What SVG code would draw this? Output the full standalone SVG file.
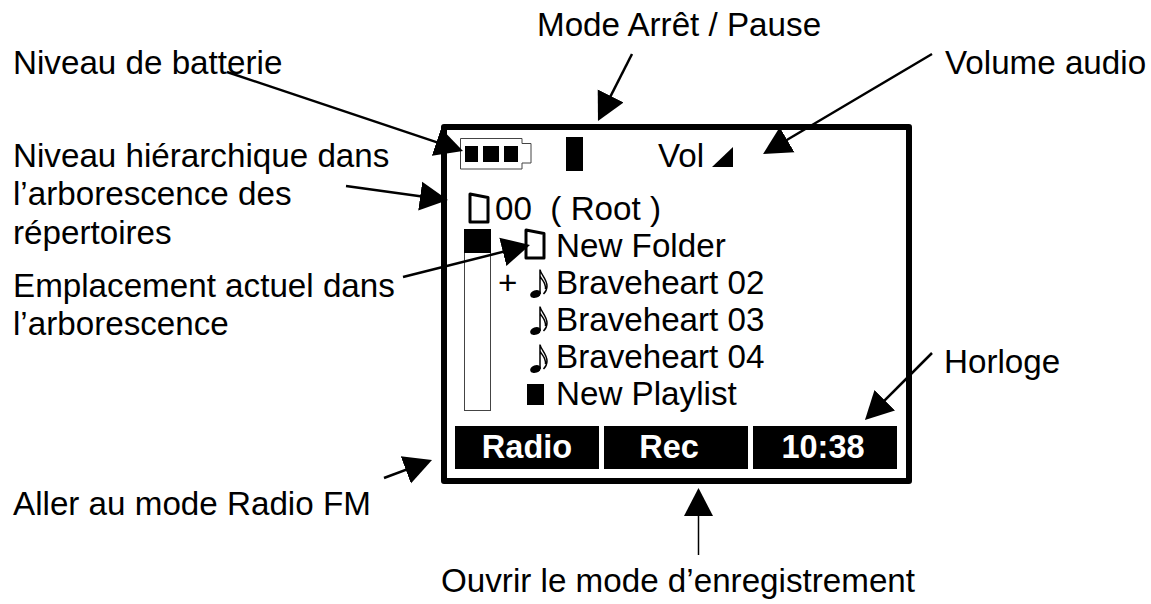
<svg xmlns="http://www.w3.org/2000/svg" width="1151" height="604" viewBox="0 0 1151 604">
<style>
text{font-family:"Liberation Sans",Arial,sans-serif;font-size:33.200px;fill:#000}
.b{font-weight:bold;fill:#fff;text-anchor:middle;font-size:32.500px}
.k{fill:#000;stroke:none}
.fold{fill:#fff;stroke:#000;stroke-width:3;stroke-linejoin:round}
.c line{stroke:#000;stroke-width:2.500;marker-end:url(#h)}
.c line.thin{stroke-width:1.500}
</style>
<defs>
<marker id="h" markerUnits="userSpaceOnUse" markerWidth="30" markerHeight="31" refX="22" refY="15.500" orient="auto"><path d="M0,1L28,15.500L0,30z" fill="#000"/></marker>
<symbol id="note" viewBox="0 0 18 29" overflow="visible">
<ellipse cx="5.500" cy="25" rx="5.500" ry="3.800" transform="rotate(-20 5.500 25)" fill="#000"/>
<path d="M10,25V0.500C10.500,5 17,10 17,17C17,20 15.500,23 13.500,25M10,7C11.500,11 16,13 15.500,20" fill="none" stroke="#000" stroke-width="1.500"/>
</symbol>
<path id="folder" class="fold" d="M0,0L18,3.500V28H0z"/>
</defs>
<rect width="1151" height="604" fill="#fff"/>
<g id="screen">
<rect x="444" y="127" width="465" height="354" fill="none" stroke="#000" stroke-width="6" stroke-linejoin="round"/>
</g>
<g id="battery">
<path d="M460.500,138.500H522V143.500H531V163H522V169H460.500z" fill="#fff" stroke="#444" stroke-width="1"/>
<rect class="k" x="465" y="146" width="13" height="16"/>
<rect class="k" x="483" y="146" width="16" height="16"/>
<rect class="k" x="504" y="146" width="14" height="16"/>
</g>
<g id="pause"><rect class="k" x="566" y="137" width="17" height="34"/></g>
<g id="volume">
<text x="658" y="167">Vol</text>
<path class="k" d="M712,167L733,147V167z"/>
</g>
<g id="root">
<use href="#folder" x="470" y="194"/>
<text x="495" y="220" xml:space="preserve">00  ( Root )</text>
</g>
<g id="scrollbar">
<rect x="464.500" y="229.500" width="26" height="181" fill="#fff" stroke="#444" stroke-width="1"/>
<rect class="k" x="464" y="229" width="27" height="24"/>
</g>
<g id="new-folder">
<use href="#folder" x="526" y="230"/>
<text x="556" y="257">New Folder</text>
</g>
<g id="track-02">
<text x="498" y="294">+</text>
<use href="#note" x="530" y="269" width="18" height="29"/>
<text x="556" y="294">Braveheart 02</text>
</g>
<g id="track-03">
<use href="#note" x="530" y="306" width="18" height="29"/>
<text x="556" y="331">Braveheart 03</text>
</g>
<g id="track-04">
<use href="#note" x="530" y="344" width="18" height="29"/>
<text x="556" y="368">Braveheart 04</text>
</g>
<g id="playlist">
<rect class="k" x="527" y="384" width="17" height="21"/>
<text x="556" y="405">New Playlist</text>
</g>
<g id="btn-radio"><rect class="k" x="455" y="426" width="144" height="43"/><text class="b" x="527" y="458">Radio</text></g>
<g id="btn-rec"><rect class="k" x="604" y="426" width="144" height="43"/><text class="b" x="669" y="458">Rec</text></g>
<g id="btn-clock"><rect class="k" x="753" y="426" width="144" height="43"/><text class="b" x="823" y="458">10:38</text></g>
<g id="labels">
<text x="537" y="36">Mode Arrêt / Pause</text>
<text x="13" y="74">Niveau de batterie</text>
<text x="945" y="74">Volume audio</text>
<text x="13" y="167">Niveau hiérarchique dans</text>
<text x="13" y="205">l’arborescence des</text>
<text x="13" y="244">répertoires</text>
<text x="13" y="297">Emplacement actuel dans</text>
<text x="13" y="335">l’arborescence</text>
<text x="944" y="373">Horloge</text>
<text x="13" y="515">Aller au mode Radio FM</text>
<text x="441" y="592">Ouvrir le mode d’enregistrement</text>
</g>
<g id="connectors" class="c">
<line x1="227" y1="72" x2="457.300" y2="149.100"/>
<line x1="632" y1="54" x2="600.700" y2="115.600"/>
<line x1="932" y1="54" x2="768.200" y2="151"/>
<line x1="346" y1="186" x2="442" y2="199.200"/>
<line x1="403" y1="277" x2="524.200" y2="246.500"/>
<line x1="932" y1="353" x2="869.200" y2="415.800"/>
<line x1="384" y1="478" x2="426.400" y2="462.100"/>
<line class="thin" x1="698.500" y1="555" x2="698.500" y2="494"/>
</g>
</svg>
